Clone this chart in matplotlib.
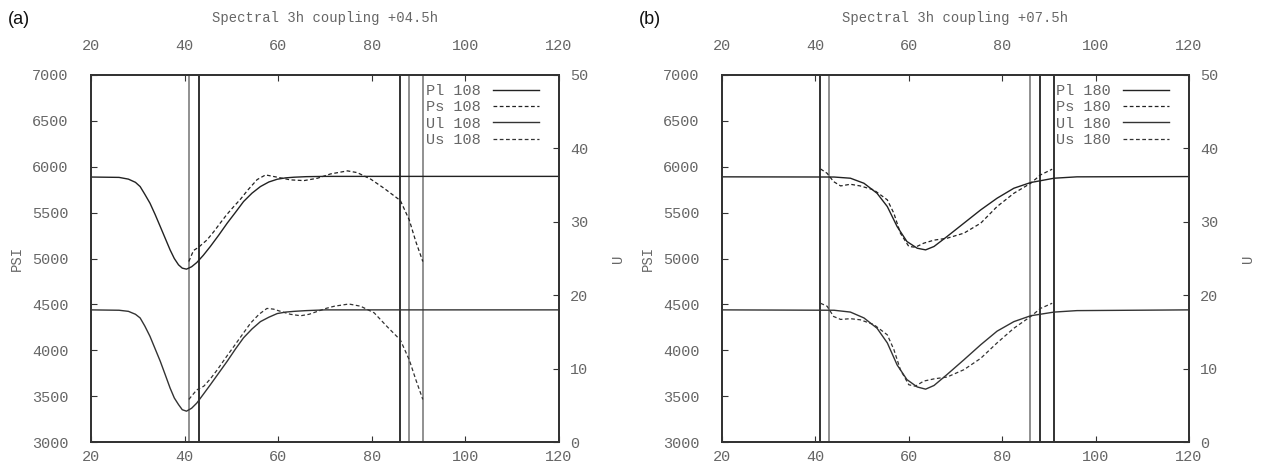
import numpy as np
import matplotlib
matplotlib.use("Agg")
import matplotlib.pyplot as plt

# panel (a): +04.5h, run 108
pl_x_a = [20, 26, 28, 29.5, 30.5, 31.5, 32.6, 33.7, 34.8, 35.9, 36.9, 37.8, 38.7, 39.5, 40.4,
          41.5, 42.6, 44, 45.5, 47.3, 49.1, 50.9, 52.6, 54.4, 56.2, 58, 59.8, 61.6, 63.4, 66, 70, 120]
pl_a = [5888, 5884, 5865, 5830, 5784, 5700, 5603, 5480, 5348, 5215, 5094, 5000, 4931, 4895, 4884,
        4910, 4956, 5035, 5131, 5255, 5385, 5505, 5621, 5712, 5784, 5834, 5864, 5879, 5886, 5892, 5895, 5895]
ul_a = [18.0, 17.95, 17.8, 17.4, 16.9, 15.8, 14.4, 12.7, 11.0, 9.1, 7.35, 6.0, 5.1, 4.4, 4.2,
        4.6, 5.3, 6.5, 7.8, 9.4, 11.0, 12.7, 14.2, 15.4, 16.4, 17.0, 17.5, 17.7, 17.8, 17.9, 18.0, 18.0]

ps_x_a = [40.9, 41.9, 43, 44.8, 46.2, 47.6, 49, 50.5, 52, 53.4, 55.5, 57.3, 59.8, 62.6, 65.5,
          68.4, 71.2, 74.8, 76.9, 79.8, 82.6, 86.1, 88, 89.4, 90.9]
ps_a = [4967, 5087, 5123, 5203, 5290, 5385, 5478, 5566, 5650, 5740, 5860, 5911, 5886, 5857, 5849,
        5875, 5922, 5955, 5936, 5864, 5766, 5632, 5421, 5185, 4967]

us_x_a = [40.9, 42.6, 44.1, 45.5, 47, 48.8, 50.5, 52.3, 54.1, 55.9, 57.6, 59, 60.5, 62.6, 64.8,
          66.6, 68.4, 70.2, 72, 75.1, 77.6, 80.5, 83.3, 86.1, 88, 89.4, 90.9]
us_a = [5.8, 7.1, 7.6, 8.6, 9.85, 11.5, 13.0, 14.6, 16.2, 17.4, 18.2, 18.1, 17.8, 17.4, 17.2,
        17.4, 17.8, 18.2, 18.5, 18.8, 18.5, 17.6, 15.7, 13.9, 11.2, 8.5, 5.8]

# panel (b): +07.5h, run 180
pl_x_b = [20, 44, 47.5, 50.4, 53.2, 55.4, 57.5, 59.6, 61.8, 63.6, 65.4, 68.2, 71.8, 75.4, 78.9,
          82.5, 86.1, 91.1, 96, 120]
pl_b = [5890, 5888, 5875, 5820, 5711, 5566, 5348, 5185, 5112, 5094, 5131, 5240, 5385, 5530, 5657,
        5766, 5828, 5875, 5890, 5893]
ul_b = [18.0, 17.95, 17.7, 16.9, 15.5, 13.5, 10.5, 8.5, 7.5, 7.2, 7.7, 9.2, 11.2, 13.25, 15.1,
        16.4, 17.2, 17.7, 17.9, 18.0]

ps_x_b = [41.1, 42.5, 43.9, 45.4, 47.5, 49.6, 52.5, 55.4, 56.8, 58.2, 60, 61.4, 63.2, 65.4, 68.2,
          71.8, 75.4, 78.9, 82.5, 86.1, 88.2, 90.7]
ps_b = [5976, 5929, 5838, 5791, 5809, 5791, 5748, 5639, 5493, 5276, 5131, 5123, 5167, 5200, 5221,
        5276, 5385, 5566, 5711, 5820, 5911, 5973]
us_b = [18.9, 18.5, 17.1, 16.7, 16.8, 16.65, 16.0, 14.6, 12.6, 9.85, 7.8, 7.6, 8.3, 8.6, 8.85,
        9.85, 11.4, 13.5, 15.5, 17.1, 18.2, 18.9]

# boundary markers (x position, colour)
vlines_a = [(41, "#888888"), (43, "#222222"), (86, "#222222"), (88, "#888888"), (91, "#888888")]
vlines_b = [(41, "#222222"), (43, "#888888"), (86, "#888888"), (88, "#222222"), (91, "#222222")]

x_ticks = [20, 40, 60, 80, 100, 120]
psi_ticks = [3000, 3500, 4000, 4500, 5000, 5500, 6000, 6500, 7000]
u_ticks = [0, 10, 20, 30, 40, 50]

MONO = "Liberation Mono"
GREY = "#666666"
W, H = 1262, 467

fig = plt.figure(figsize=(W / 100, H / 100), dpi=100)


def panel(left, width, tag, title, run, pl_x, pl, ul, ps_x, ps, us_x, us, vlines):
    ax = fig.add_axes([left / W, 25 / H, width / W, 367 / H])
    ax.set_xlim(20, 120)
    ax.set_ylim(3000, 7000)
    ax2 = ax.twinx()
    ax2.set_ylim(0, 50)

    for x, c in vlines:
        ax.axvline(x, color=c, lw=1.3, zorder=1)

    h_pl, = ax.plot(pl_x, pl, color="#222222", lw=1.0)
    h_ps, = ax.plot(ps_x, ps, color="#222222", lw=0.9, ls=(0, (3, 2)))
    h_ul, = ax2.plot(pl_x, ul, color="#333333", lw=1.0)
    h_us, = ax2.plot(us_x, us, color="#333333", lw=0.9, ls=(0, (3, 2)))

    for a in (ax, ax2):
        for s in a.spines.values():
            s.set_color("#333333")
            s.set_linewidth(1.3)

    ax.set_xticks(x_ticks)
    ax.set_yticks(psi_ticks)
    ax.tick_params(axis="both", direction="in", length=4, color="#333333",
                   labelsize=11, labelcolor=GREY, right=False)
    ax.tick_params(axis="x", pad=6)
    ax.tick_params(axis="y", pad=16)
    ax2.set_yticks(u_ticks)
    ax2.tick_params(axis="y", direction="in", length=4, color="#333333",
                    labelsize=11, labelcolor=GREY, pad=8)
    top = ax.secondary_xaxis("top")
    top.set_xticks(x_ticks)
    top.tick_params(direction="in", length=4, color="#333333", labelsize=11,
                    labelcolor=GREY, pad=15.5)
    top.spines["top"].set_visible(False)

    for lab in ax.get_xticklabels() + ax.get_yticklabels() + ax2.get_yticklabels() + top.get_xticklabels():
        lab.set_fontfamily(MONO)

    ax.set_ylabel("PSI", family=MONO, color=GREY, fontsize=10, labelpad=6)
    ax2.set_ylabel("U", family=MONO, color=GREY, fontsize=10, labelpad=16)

    leg = ax2.legend([h_pl, h_ps, h_ul, h_us],
                     [f"Pl {run}", f"Ps {run}", f"Ul {run}", f"Us {run}"],
                     loc="upper right", bbox_to_anchor=(1 - 20 / width, 1 - 9 / 367),
                     frameon=False, markerfirst=False, handlelength=3.0,
                     handletextpad=0.8, labelspacing=0.15, borderaxespad=0,
                     borderpad=0, prop={"family": MONO, "size": 11})
    for t in leg.get_texts():
        t.set_color(GREY)

    cx = (left + width / 2) / W
    fig.text(cx, 1 - 18 / H, title, family=MONO, color=GREY, fontsize=10,
             ha="center", va="center")
    fig.text((left - 83) / W, 1 - 20 / H, tag, family="Liberation Sans", fontsize=13,
             ha="left", va="center", color="#111111")


panel(91, 468, "(a)", "Spectral 3h coupling +04.5h", 108,
      pl_x_a, pl_a, ul_a, ps_x_a, ps_a, us_x_a, us_a, vlines_a)
panel(722, 467, "(b)", "Spectral 3h coupling +07.5h", 180,
      pl_x_b, pl_b, ul_b, ps_x_b, ps_b, ps_x_b, us_b, vlines_b)

fig.savefig("out.png", dpi=100)
